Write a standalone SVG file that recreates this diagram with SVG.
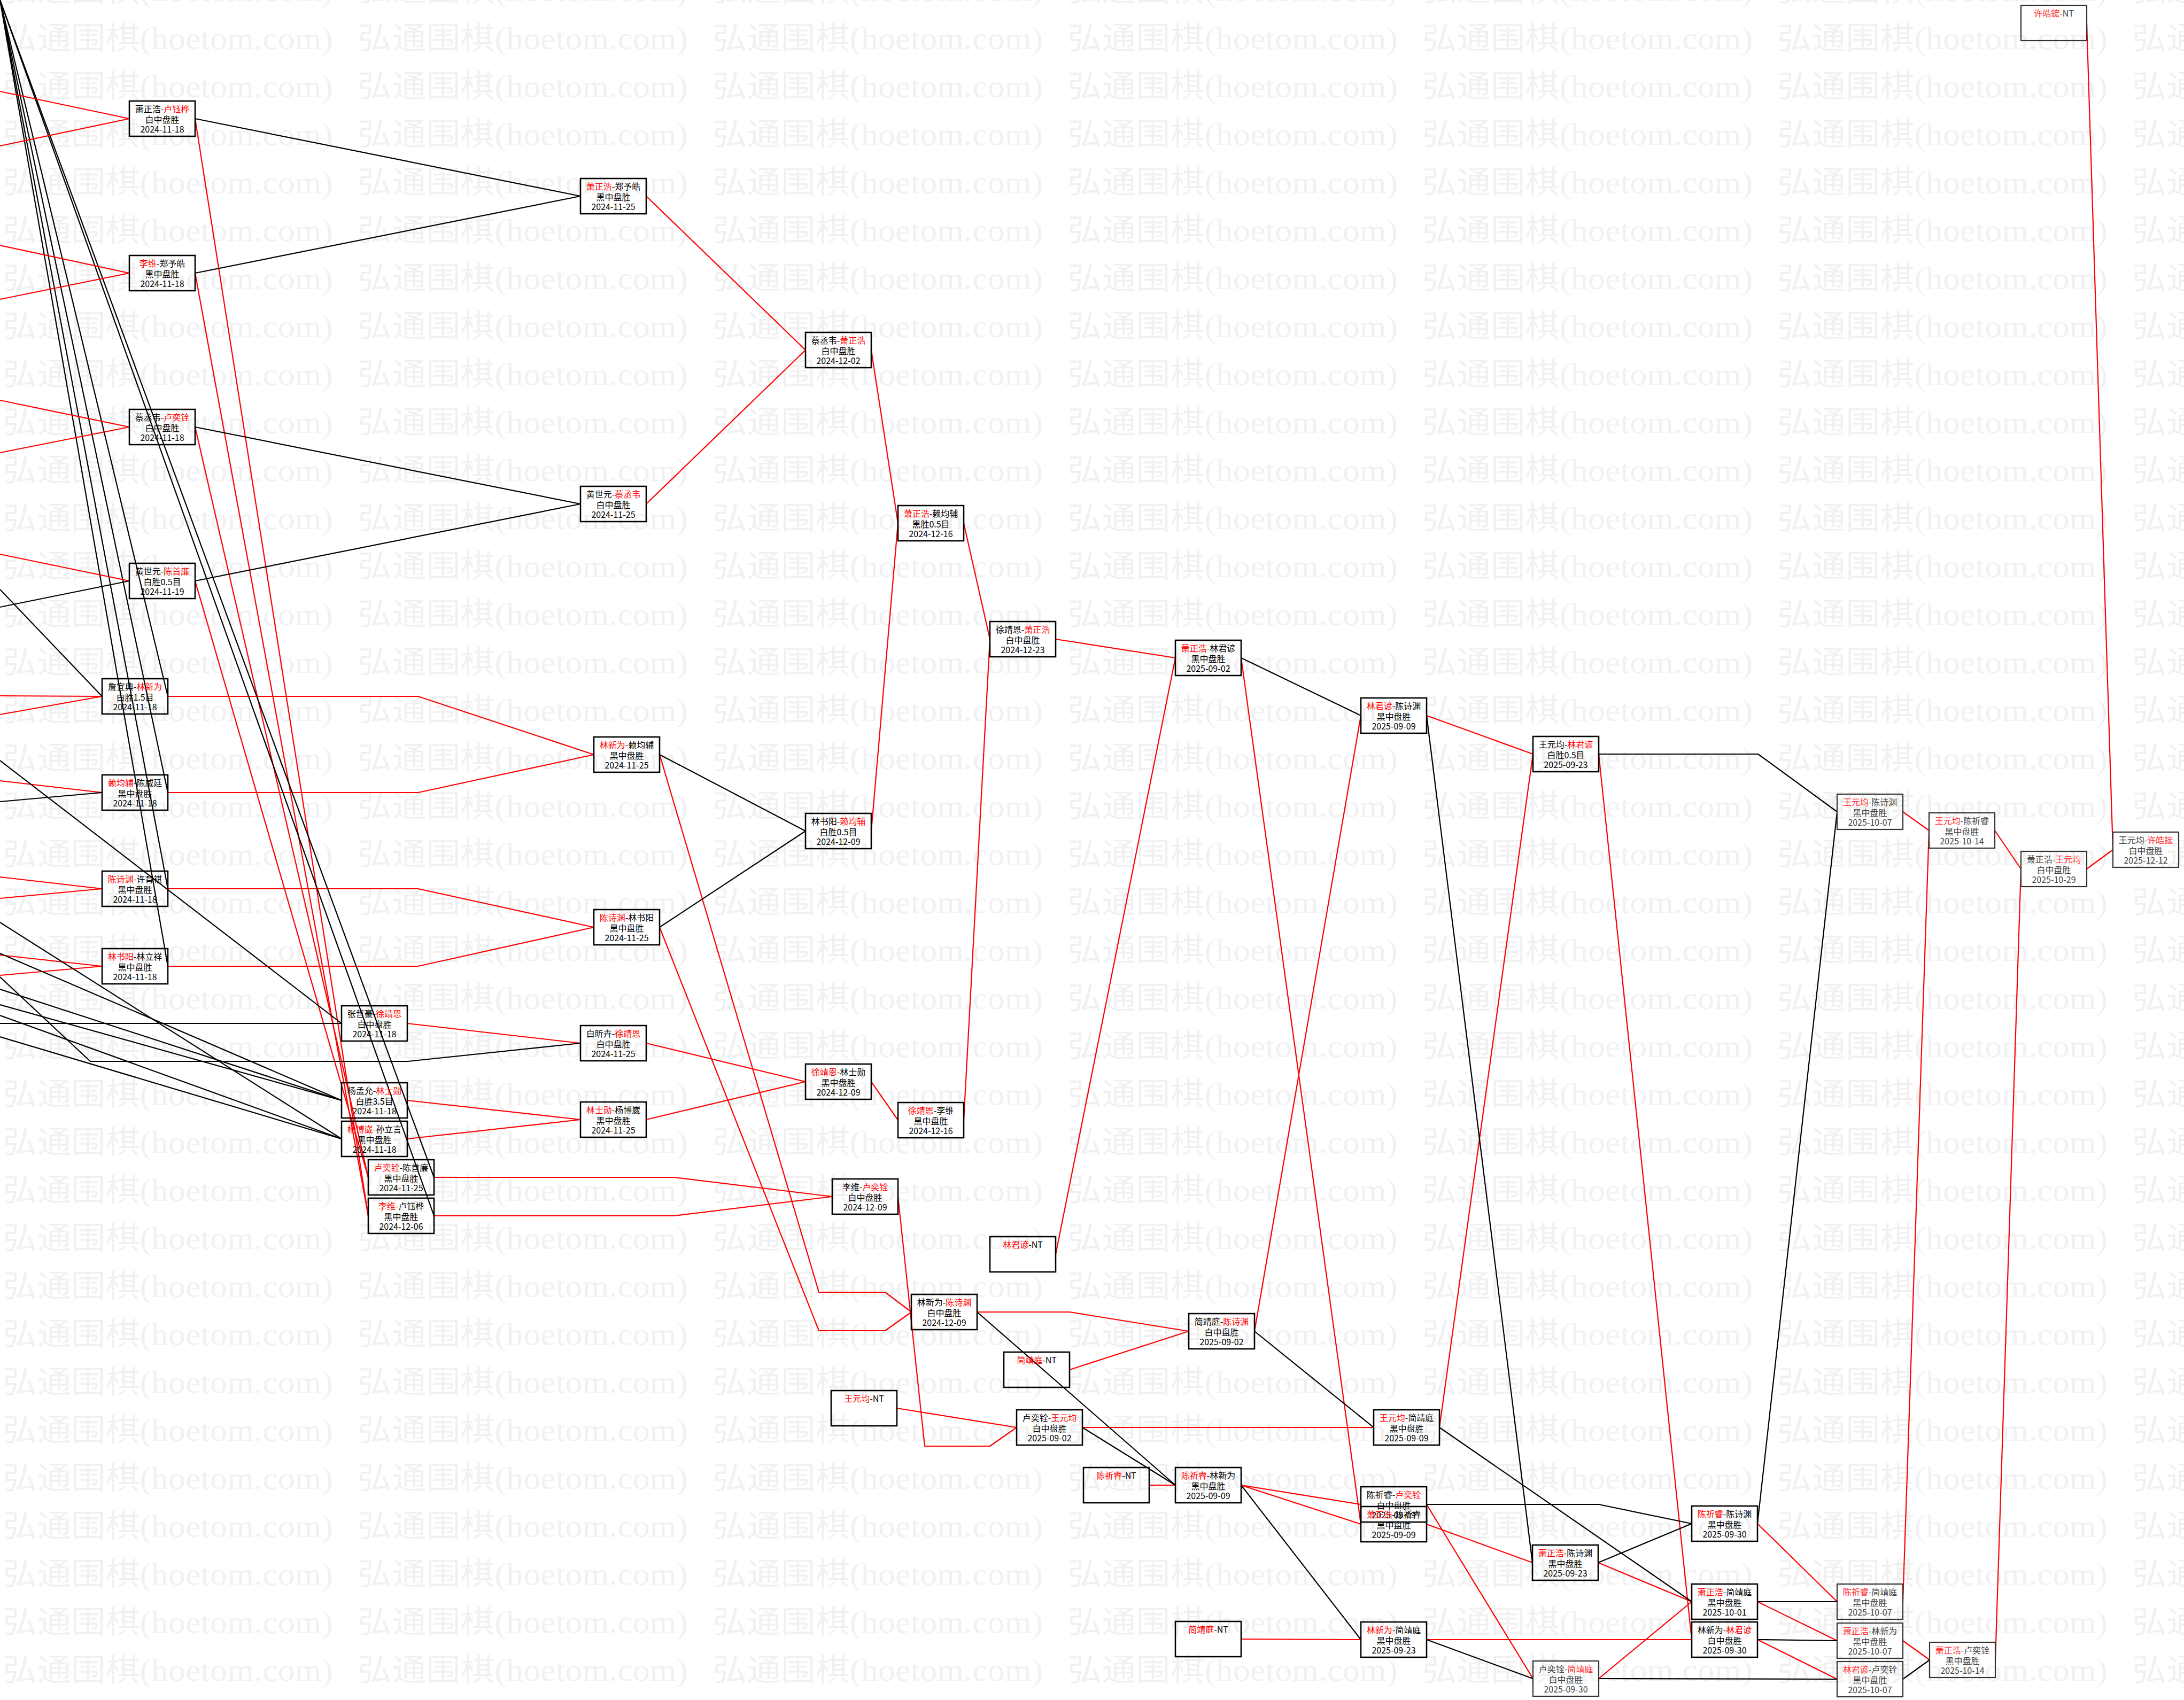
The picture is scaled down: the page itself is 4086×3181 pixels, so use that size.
<svg xmlns="http://www.w3.org/2000/svg" width="4086" height="3181" viewBox="0 0 4086 3181">
<style>
.n rect{fill:none;stroke:#000;stroke-width:2.6}
.n text{font-family:"Noto Sans CJK SC","Noto Sans",sans-serif;font-size:16px;text-anchor:middle;fill:#000}
.n .r{fill:#f00}
.n.g rect{stroke:#333;stroke-width:2.2}
.n.g text{fill:#444}
.n.g .r{fill:#f33}
.e polyline{fill:none;stroke-width:2.2;stroke-linejoin:round}
.e .R{stroke:#f00}
.e .B{stroke:#000}
.wm{font-family:"Liberation Serif","Noto Sans CJK SC",serif;font-size:58px;fill:#f1f1f1}
</style>
<defs>
<pattern id="wm" patternUnits="userSpaceOnUse" x="0" y="30" width="664" height="89.8">
<text class="wm" x="5" y="62" textLength="618" lengthAdjust="spacingAndGlyphs">弘通围棋(hoetom.com)</text>
</pattern>
</defs>
<rect width="4086" height="3181" fill="#fff"/>
<rect width="4086" height="3181" fill="url(#wm)"/>
<g id="connectors" class="e">
<polyline class="R" points="365,222 689,2275"/>
<polyline class="R" points="365,511 689,2275"/>
<polyline class="R" points="365,799 689,2203"/>
<polyline class="R" points="365,1087 689,2203"/>
<polyline class="R" points="314,1303 782,1303 1111,1412"/>
<polyline class="R" points="314,1483 782,1483 1111,1412"/>
<polyline class="R" points="314,1663 782,1663 1111,1735"/>
<polyline class="R" points="314,1808 782,1808 1111,1735"/>
<polyline class="R" points="762,1915 1086,1952"/>
<polyline class="R" points="762,2059 1086,2095"/>
<polyline class="R" points="762,2131 1086,2095"/>
<polyline class="R" points="812,2203 1260,2203 1557,2239"/>
<polyline class="R" points="812,2275 1260,2275 1557,2239"/>
<polyline class="R" points="1209,367 1507,655"/>
<polyline class="R" points="1209,943 1507,655"/>
<polyline class="R" points="1234,1412 1532,2418 1656,2418 1705,2455"/>
<polyline class="R" points="1234,1735 1532,2490 1656,2490 1705,2455"/>
<polyline class="R" points="1209,1952 1507,2024"/>
<polyline class="R" points="1209,2095 1507,2024"/>
<polyline class="R" points="1630,655 1680,979"/>
<polyline class="R" points="1630,1555 1680,979"/>
<polyline class="R" points="1630,2024 1680,2096"/>
<polyline class="R" points="1680,2239 1730,2706 1852,2706 1902,2671"/>
<polyline class="R" points="1803,979 1852,1196"/>
<polyline class="R" points="1803,2096 1852,1196"/>
<polyline class="R" points="1975,1196 2199,1231"/>
<polyline class="R" points="1975,2347 2199,1231"/>
<polyline class="R" points="1828,2455 2001,2455 2224,2491"/>
<polyline class="R" points="2001,2563 2224,2491"/>
<polyline class="R" points="1678,2635 1902,2671"/>
<polyline class="R" points="2025,2671 2570,2671"/>
<polyline class="R" points="2150,2779 2199,2779"/>
<polyline class="R" points="2322,2779 2546,2815"/>
<polyline class="R" points="2322,2779 2546,2852"/>
<polyline class="R" points="2322,3067 2546,3068"/>
<polyline class="R" points="2347,2491 2546,1339"/>
<polyline class="R" points="2322,1231 2546,2852"/>
<polyline class="R" points="2669,1339 2868,1411"/>
<polyline class="R" points="2693,2671 2868,1411"/>
<polyline class="R" points="2991,1411 3165,3068"/>
<polyline class="R" points="2669,2815 2868,3141"/>
<polyline class="R" points="2669,2852 2867,2924"/>
<polyline class="R" points="2669,3068 3165,3068"/>
<polyline class="R" points="2990,2924 3165,2997"/>
<polyline class="R" points="2991,3141 3165,2997"/>
<polyline class="R" points="3288,2851 3437,2997"/>
<polyline class="R" points="3288,2997 3437,3070"/>
<polyline class="R" points="3288,3068 3437,3142"/>
<polyline class="R" points="3560,1519 3609,1554"/>
<polyline class="R" points="3560,2997 3609,1554"/>
<polyline class="R" points="3560,3070 3610,3106"/>
<polyline class="R" points="3732,1554 3781,1626"/>
<polyline class="R" points="3733,3106 3781,1626"/>
<polyline class="R" points="3904,1626 3953,1590"/>
<polyline class="R" points="3904,43 3953,1590"/>
<polyline class="B" points="365,222 1086,367"/>
<polyline class="B" points="365,511 1086,367"/>
<polyline class="B" points="365,799 1086,943"/>
<polyline class="B" points="365,1087 1086,943"/>
<polyline class="B" points="314,1303 0,0"/>
<polyline class="B" points="314,1483 0,0"/>
<polyline class="B" points="314,1663 0,0"/>
<polyline class="B" points="314,1808 0,0"/>
<polyline class="B" points="812,2203 0,0"/>
<polyline class="B" points="812,2275 0,0"/>
<polyline class="B" points="1234,1412 1507,1555"/>
<polyline class="B" points="1234,1735 1507,1555"/>
<polyline class="B" points="1828,2455 2199,2779"/>
<polyline class="B" points="2025,2671 2199,2779"/>
<polyline class="B" points="2322,2779 2546,3068"/>
<polyline class="B" points="2347,2491 2570,2671"/>
<polyline class="B" points="2322,1231 2546,1339"/>
<polyline class="B" points="2669,1339 2867,2924"/>
<polyline class="B" points="2991,1411 3289,1411 3437,1519"/>
<polyline class="B" points="2693,2671 3165,2997"/>
<polyline class="B" points="2669,2815 2991,2815 3165,2851"/>
<polyline class="B" points="2669,3068 2868,3141"/>
<polyline class="B" points="2990,2924 3165,2851"/>
<polyline class="B" points="2991,3141 3437,3142"/>
<polyline class="B" points="3288,2851 3437,1519"/>
<polyline class="B" points="3288,2997 3437,2997"/>
<polyline class="B" points="3288,3068 3437,3070"/>
<polyline class="B" points="3560,3142 3610,3106"/>
<polyline class="R" points="0,171 242,222"/>
<polyline class="R" points="0,273 242,222"/>
<polyline class="R" points="0,459 242,511"/>
<polyline class="R" points="0,560 242,511"/>
<polyline class="R" points="0,749 242,799"/>
<polyline class="R" points="0,847 242,799"/>
<polyline class="R" points="0,1037 242,1087"/>
<polyline class="B" points="0,1136 242,1087"/>
<polyline class="B" points="0,1103 191,1303"/>
<polyline class="R" points="0,1302 191,1303"/>
<polyline class="R" points="0,1337 191,1303"/>
<polyline class="R" points="0,1461 191,1483"/>
<polyline class="B" points="0,1500 191,1483"/>
<polyline class="R" points="0,1641 191,1663"/>
<polyline class="R" points="0,1681 191,1663"/>
<polyline class="R" points="0,1787 191,1808"/>
<polyline class="R" points="0,1825 191,1808"/>
<polyline class="B" points="0,1423 639,1915"/>
<polyline class="B" points="0,1915 639,1915"/>
<polyline class="B" points="0,1726 639,2131"/>
<polyline class="B" points="0,1784 639,2059"/>
<polyline class="B" points="0,1851 639,2059"/>
<polyline class="B" points="0,1880 639,2059"/>
<polyline class="B" points="0,1900 639,2131"/>
<polyline class="B" points="0,1940 639,2131"/>
<polyline class="B" points="0,1828 169,1986 763,1986 1086,1952"/>
</g>
<g id="n1" class="n"><rect x="242" y="189" width="123" height="66"/><text x="303.5" y="210">萧正浩-<tspan class="r">卢钰桦</tspan></text><text x="303.5" y="230">白中盘胜</text><text x="303.5" y="248">2024-11-18</text></g>
<g id="n2" class="n"><rect x="242" y="478" width="123" height="66"/><text x="303.5" y="499"><tspan class="r">李维</tspan>-郑予皓</text><text x="303.5" y="519">黑中盘胜</text><text x="303.5" y="537">2024-11-18</text></g>
<g id="n3" class="n"><rect x="242" y="766" width="123" height="66"/><text x="303.5" y="787">蔡丞韦-<tspan class="r">卢奕铨</tspan></text><text x="303.5" y="807">白中盘胜</text><text x="303.5" y="825">2024-11-18</text></g>
<g id="n4" class="n"><rect x="242" y="1054" width="123" height="66"/><text x="303.5" y="1075">黄世元-<tspan class="r">陈首廉</tspan></text><text x="303.5" y="1095">白胜0.5目</text><text x="303.5" y="1113">2024-11-19</text></g>
<g id="n5" class="n"><rect x="191" y="1270" width="123" height="66"/><text x="252.5" y="1291">詹宜典-<tspan class="r">林新为</tspan></text><text x="252.5" y="1311">白胜1.5目</text><text x="252.5" y="1329">2024-11-18</text></g>
<g id="n6" class="n"><rect x="191" y="1450" width="123" height="66"/><text x="252.5" y="1471"><tspan class="r">赖均辅</tspan>-陈威廷</text><text x="252.5" y="1491">黑中盘胜</text><text x="252.5" y="1509">2024-11-18</text></g>
<g id="n7" class="n"><rect x="191" y="1630" width="123" height="66"/><text x="252.5" y="1651"><tspan class="r">陈诗渊</tspan>-许育祺</text><text x="252.5" y="1671">黑中盘胜</text><text x="252.5" y="1689">2024-11-18</text></g>
<g id="n8" class="n"><rect x="191" y="1775" width="123" height="66"/><text x="252.5" y="1796"><tspan class="r">林书阳</tspan>-林立祥</text><text x="252.5" y="1816">黑中盘胜</text><text x="252.5" y="1834">2024-11-18</text></g>
<g id="n9" class="n"><rect x="639" y="1882" width="123" height="66"/><text x="700.5" y="1903">张哲豪-<tspan class="r">徐靖恩</tspan></text><text x="700.5" y="1923">白中盘胜</text><text x="700.5" y="1941">2024-11-18</text></g>
<g id="n10" class="n"><rect x="639" y="2026" width="123" height="66"/><text x="700.5" y="2047">杨孟允-<tspan class="r">林士勋</tspan></text><text x="700.5" y="2067">白胜3.5目</text><text x="700.5" y="2085">2024-11-18</text></g>
<g id="n11" class="n"><rect x="639" y="2098" width="123" height="66"/><text x="700.5" y="2119"><tspan class="r">杨博崴</tspan>-孙立言</text><text x="700.5" y="2139">黑中盘胜</text><text x="700.5" y="2157">2024-11-18</text></g>
<g id="n12" class="n"><rect x="689" y="2170" width="123" height="66"/><text x="750.5" y="2191"><tspan class="r">卢奕铨</tspan>-陈首廉</text><text x="750.5" y="2211">黑中盘胜</text><text x="750.5" y="2229">2024-11-25</text></g>
<g id="n13" class="n"><rect x="689" y="2242" width="123" height="66"/><text x="750.5" y="2263"><tspan class="r">李维</tspan>-卢钰桦</text><text x="750.5" y="2283">黑中盘胜</text><text x="750.5" y="2301">2024-12-06</text></g>
<g id="n14" class="n"><rect x="1086" y="334" width="123" height="66"/><text x="1147.5" y="355"><tspan class="r">萧正浩</tspan>-郑予皓</text><text x="1147.5" y="375">黑中盘胜</text><text x="1147.5" y="393">2024-11-25</text></g>
<g id="n15" class="n"><rect x="1086" y="910" width="123" height="66"/><text x="1147.5" y="931">黄世元-<tspan class="r">蔡丞韦</tspan></text><text x="1147.5" y="951">白中盘胜</text><text x="1147.5" y="969">2024-11-25</text></g>
<g id="n16" class="n"><rect x="1111" y="1379" width="123" height="66"/><text x="1172.5" y="1400"><tspan class="r">林新为</tspan>-赖均辅</text><text x="1172.5" y="1420">黑中盘胜</text><text x="1172.5" y="1438">2024-11-25</text></g>
<g id="n17" class="n"><rect x="1111" y="1702" width="123" height="66"/><text x="1172.5" y="1723"><tspan class="r">陈诗渊</tspan>-林书阳</text><text x="1172.5" y="1743">黑中盘胜</text><text x="1172.5" y="1761">2024-11-25</text></g>
<g id="n18" class="n"><rect x="1086" y="1919" width="123" height="66"/><text x="1147.5" y="1940">白昕卉-<tspan class="r">徐靖恩</tspan></text><text x="1147.5" y="1960">白中盘胜</text><text x="1147.5" y="1978">2024-11-25</text></g>
<g id="n19" class="n"><rect x="1086" y="2062" width="123" height="66"/><text x="1147.5" y="2083"><tspan class="r">林士勋</tspan>-杨博崴</text><text x="1147.5" y="2103">黑中盘胜</text><text x="1147.5" y="2121">2024-11-25</text></g>
<g id="n20" class="n"><rect x="1507" y="622" width="123" height="66"/><text x="1568.5" y="643">蔡丞韦-<tspan class="r">萧正浩</tspan></text><text x="1568.5" y="663">白中盘胜</text><text x="1568.5" y="681">2024-12-02</text></g>
<g id="n21" class="n"><rect x="1507" y="1522" width="123" height="66"/><text x="1568.5" y="1543">林书阳-<tspan class="r">赖均辅</tspan></text><text x="1568.5" y="1563">白胜0.5目</text><text x="1568.5" y="1581">2024-12-09</text></g>
<g id="n22" class="n"><rect x="1507" y="1991" width="123" height="66"/><text x="1568.5" y="2012"><tspan class="r">徐靖恩</tspan>-林士勋</text><text x="1568.5" y="2032">黑中盘胜</text><text x="1568.5" y="2050">2024-12-09</text></g>
<g id="n23" class="n"><rect x="1557" y="2206" width="123" height="66"/><text x="1618.5" y="2227">李维-<tspan class="r">卢奕铨</tspan></text><text x="1618.5" y="2247">白中盘胜</text><text x="1618.5" y="2265">2024-12-09</text></g>
<g id="n24" class="n"><rect x="1680" y="946" width="123" height="66"/><text x="1741.5" y="967"><tspan class="r">萧正浩</tspan>-赖均辅</text><text x="1741.5" y="987">黑胜0.5目</text><text x="1741.5" y="1005">2024-12-16</text></g>
<g id="n25" class="n"><rect x="1680" y="2063" width="123" height="66"/><text x="1741.5" y="2084"><tspan class="r">徐靖恩</tspan>-李维</text><text x="1741.5" y="2104">黑中盘胜</text><text x="1741.5" y="2122">2024-12-16</text></g>
<g id="n26" class="n"><rect x="1852" y="1163" width="123" height="66"/><text x="1913.5" y="1184">徐靖恩-<tspan class="r">萧正浩</tspan></text><text x="1913.5" y="1204">白中盘胜</text><text x="1913.5" y="1222">2024-12-23</text></g>
<g id="n27" class="n"><rect x="1852" y="2314" width="123" height="66"/><text x="1913.5" y="2335"><tspan class="r">林君谚</tspan>-NT</text></g>
<g id="n28" class="n"><rect x="1705" y="2422" width="123" height="66"/><text x="1766.5" y="2443">林新为-<tspan class="r">陈诗渊</tspan></text><text x="1766.5" y="2463">白中盘胜</text><text x="1766.5" y="2481">2024-12-09</text></g>
<g id="n29" class="n"><rect x="1878" y="2530" width="123" height="66"/><text x="1939.5" y="2551"><tspan class="r">简靖庭</tspan>-NT</text></g>
<g id="n30" class="n"><rect x="1555" y="2602" width="123" height="66"/><text x="1616.5" y="2623"><tspan class="r">王元均</tspan>-NT</text></g>
<g id="n31" class="n"><rect x="1902" y="2638" width="123" height="66"/><text x="1963.5" y="2659">卢奕铨-<tspan class="r">王元均</tspan></text><text x="1963.5" y="2679">白中盘胜</text><text x="1963.5" y="2697">2025-09-02</text></g>
<g id="n32" class="n"><rect x="2027" y="2746" width="123" height="66"/><text x="2088.5" y="2767"><tspan class="r">陈祈睿</tspan>-NT</text></g>
<g id="n33" class="n"><rect x="2199" y="2746" width="123" height="66"/><text x="2260.5" y="2767"><tspan class="r">陈祈睿</tspan>-林新为</text><text x="2260.5" y="2787">黑中盘胜</text><text x="2260.5" y="2805">2025-09-09</text></g>
<g id="n34" class="n"><rect x="2199" y="3034" width="123" height="66"/><text x="2260.5" y="3055"><tspan class="r">简靖庭</tspan>-NT</text></g>
<g id="n35" class="n"><rect x="2224" y="2458" width="123" height="66"/><text x="2285.5" y="2479">简靖庭-<tspan class="r">陈诗渊</tspan></text><text x="2285.5" y="2499">白中盘胜</text><text x="2285.5" y="2517">2025-09-02</text></g>
<g id="n36" class="n"><rect x="2199" y="1198" width="123" height="66"/><text x="2260.5" y="1219"><tspan class="r">萧正浩</tspan>-林君谚</text><text x="2260.5" y="1239">黑中盘胜</text><text x="2260.5" y="1257">2025-09-02</text></g>
<g id="n37" class="n"><rect x="2546" y="1306" width="123" height="66"/><text x="2607.5" y="1327"><tspan class="r">林君谚</tspan>-陈诗渊</text><text x="2607.5" y="1347">黑中盘胜</text><text x="2607.5" y="1365">2025-09-09</text></g>
<g id="n38" class="n"><rect x="2868" y="1378" width="123" height="66"/><text x="2929.5" y="1399">王元均-<tspan class="r">林君谚</tspan></text><text x="2929.5" y="1419">白胜0.5目</text><text x="2929.5" y="1437">2025-09-23</text></g>
<g id="n39" class="n"><rect x="2570" y="2638" width="123" height="66"/><text x="2631.5" y="2659"><tspan class="r">王元均</tspan>-简靖庭</text><text x="2631.5" y="2679">黑中盘胜</text><text x="2631.5" y="2697">2025-09-09</text></g>
<g id="n40" class="n"><rect x="2546" y="2782" width="123" height="66"/><text x="2607.5" y="2803">陈祈睿-<tspan class="r">卢奕铨</tspan></text><text x="2607.5" y="2823">白中盘胜</text><text x="2607.5" y="2841">2025-09-09</text></g>
<g id="n41" class="n"><rect x="2546" y="2819" width="123" height="66"/><text x="2607.5" y="2840"><tspan class="r">萧正浩</tspan>-陈祈睿</text><text x="2607.5" y="2860">黑中盘胜</text><text x="2607.5" y="2878">2025-09-09</text></g>
<g id="n42" class="n"><rect x="2546" y="3035" width="123" height="66"/><text x="2607.5" y="3056"><tspan class="r">林新为</tspan>-简靖庭</text><text x="2607.5" y="3076">黑中盘胜</text><text x="2607.5" y="3094">2025-09-23</text></g>
<g id="n43" class="n"><rect x="2867" y="2891" width="123" height="66"/><text x="2928.5" y="2912"><tspan class="r">萧正浩</tspan>-陈诗渊</text><text x="2928.5" y="2932">黑中盘胜</text><text x="2928.5" y="2950">2025-09-23</text></g>
<g id="n44" class="n g"><rect x="2868" y="3108" width="123" height="66"/><text x="2929.5" y="3129">卢奕铨-<tspan class="r">简靖庭</tspan></text><text x="2929.5" y="3149">白中盘胜</text><text x="2929.5" y="3167">2025-09-30</text></g>
<g id="n45" class="n"><rect x="3165" y="2818" width="123" height="66"/><text x="3226.5" y="2839"><tspan class="r">陈祈睿</tspan>-陈诗渊</text><text x="3226.5" y="2859">黑中盘胜</text><text x="3226.5" y="2877">2025-09-30</text></g>
<g id="n46" class="n"><rect x="3165" y="2964" width="123" height="66"/><text x="3226.5" y="2985"><tspan class="r">萧正浩</tspan>-简靖庭</text><text x="3226.5" y="3005">黑中盘胜</text><text x="3226.5" y="3023">2025-10-01</text></g>
<g id="n47" class="n"><rect x="3165" y="3035" width="123" height="66"/><text x="3226.5" y="3056">林新为-<tspan class="r">林君谚</tspan></text><text x="3226.5" y="3076">白中盘胜</text><text x="3226.5" y="3094">2025-09-30</text></g>
<g id="n48" class="n g"><rect x="3437" y="1486" width="123" height="66"/><text x="3498.5" y="1507"><tspan class="r">王元均</tspan>-陈诗渊</text><text x="3498.5" y="1527">黑中盘胜</text><text x="3498.5" y="1545">2025-10-07</text></g>
<g id="n49" class="n g"><rect x="3437" y="2964" width="123" height="66"/><text x="3498.5" y="2985"><tspan class="r">陈祈睿</tspan>-简靖庭</text><text x="3498.5" y="3005">黑中盘胜</text><text x="3498.5" y="3023">2025-10-07</text></g>
<g id="n50" class="n g"><rect x="3437" y="3037" width="123" height="66"/><text x="3498.5" y="3058"><tspan class="r">萧正浩</tspan>-林新为</text><text x="3498.5" y="3078">黑中盘胜</text><text x="3498.5" y="3096">2025-10-07</text></g>
<g id="n51" class="n g"><rect x="3437" y="3109" width="123" height="66"/><text x="3498.5" y="3130"><tspan class="r">林君谚</tspan>-卢奕铨</text><text x="3498.5" y="3150">黑中盘胜</text><text x="3498.5" y="3168">2025-10-07</text></g>
<g id="n52" class="n g"><rect x="3609" y="1521" width="123" height="66"/><text x="3670.5" y="1542"><tspan class="r">王元均</tspan>-陈祈睿</text><text x="3670.5" y="1562">黑中盘胜</text><text x="3670.5" y="1580">2025-10-14</text></g>
<g id="n53" class="n g"><rect x="3610" y="3073" width="123" height="66"/><text x="3671.5" y="3094"><tspan class="r">萧正浩</tspan>-卢奕铨</text><text x="3671.5" y="3114">黑中盘胜</text><text x="3671.5" y="3132">2025-10-14</text></g>
<g id="n54" class="n g"><rect x="3781" y="1593" width="123" height="66"/><text x="3842.5" y="1614">萧正浩-<tspan class="r">王元均</tspan></text><text x="3842.5" y="1634">白中盘胜</text><text x="3842.5" y="1652">2025-10-29</text></g>
<g id="n55" class="n g"><rect x="3953" y="1557" width="123" height="66"/><text x="4014.5" y="1578">王元均-<tspan class="r">许皓鋐</tspan></text><text x="4014.5" y="1598">白中盘胜</text><text x="4014.5" y="1616">2025-12-12</text></g>
<g id="n56" class="n g"><rect x="3781" y="10" width="123" height="66"/><text x="3842.5" y="31"><tspan class="r">许皓鋐</tspan>-NT</text></g>
</svg>
